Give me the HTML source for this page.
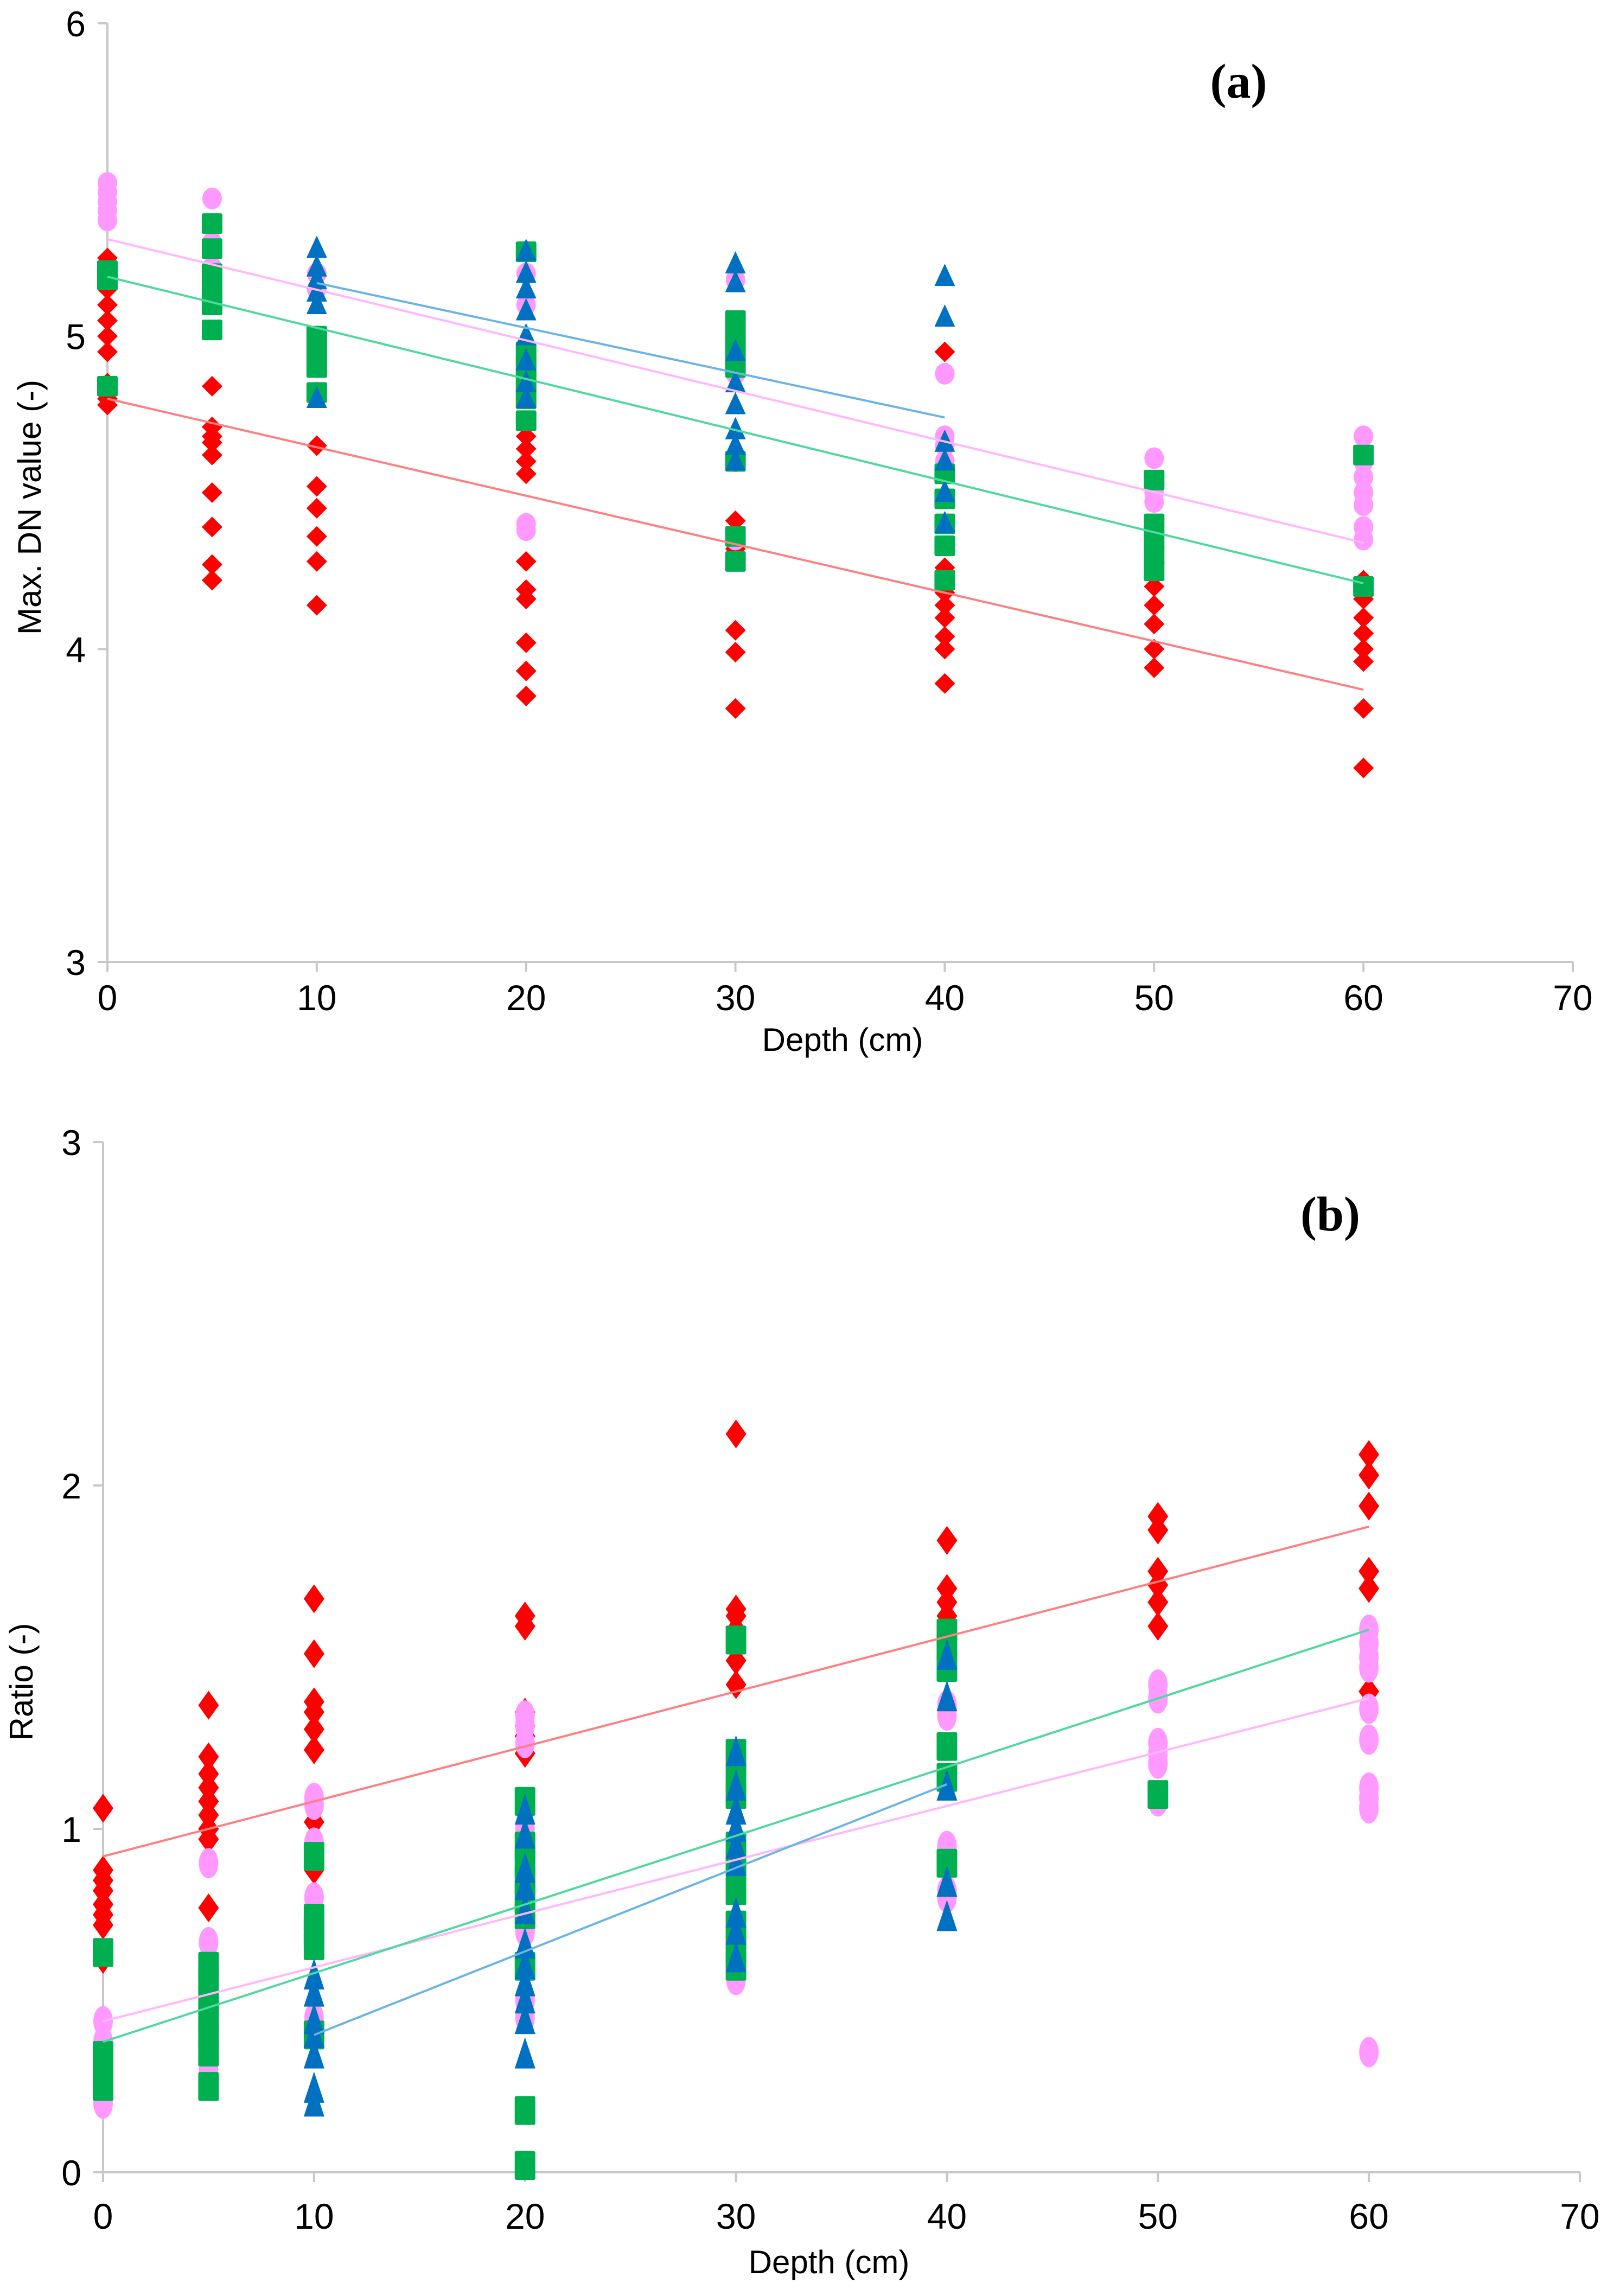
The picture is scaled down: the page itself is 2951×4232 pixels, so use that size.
<!DOCTYPE html>
<html><head><meta charset="utf-8"><style>
html,body{margin:0;padding:0;background:#fff;}
svg{display:block;}
text{font-family:"Liberation Sans",sans-serif;fill:#000;}
</style></head><body>
<svg id="fig" width="2951" height="4232" viewBox="0 0 2951 4232" xmlns="http://www.w3.org/2000/svg"></svg>
<script>
// ---------- Chart (a) data ----------
const xTicks = [0,10,20,30,40,50,60,70];
const yTicksA = [3,4,5,6];
const yTicksB = [0,1,2,3];
const depthsA = [0,5,10,20,30,40,50,60];
const redA = [[5.25,5.2,5.15,5.1,5.05,5.0,4.95,4.85,4.8,4.78],[4.84,4.71,4.68,4.66,4.62,4.5,4.39,4.27,4.22],[4.65,4.52,4.45,4.36,4.28,4.14],[4.68,4.64,4.6,4.56,4.28,4.19,4.16,4.02,3.93,3.85],[4.41,4.36,4.32,4.28,4.06,3.99,3.81],[4.95,4.26,4.22,4.18,4.14,4.1,4.04,4.0,3.89],[4.24,4.2,4.14,4.08,4.0,3.94],[4.22,4.16,4.1,4.05,4.0,3.96,3.81,3.62]];
const pinkA = [[5.49,5.46,5.43,5.4,5.37],[5.44,5.3,5.22],[5.2,5.15,5.0,4.82],[5.27,5.2,5.1,4.4,4.38],[5.18,4.88,4.6,4.35],[4.88,4.68,4.65,4.6],[4.61,4.5,4.47],[4.68,4.6,4.55,4.5,4.46,4.39,4.35]];
const greenA = [[5.21,5.18,4.84],[5.36,5.28,5.2,5.15,5.1,5.02],[5.0,4.95,4.9,4.82],[5.27,4.95,4.9,4.85,4.8,4.73],[5.05,5.0,4.95,4.9,4.6,4.36,4.28],[4.56,4.48,4.4,4.33,4.22],[4.54,4.4,4.35,4.3,4.25],[4.62,4.2]];
const blueDepths = [10,20,30,40];
const blueA = [[5.28,5.22,5.18,5.14,5.1,4.8],[5.27,5.2,5.15,5.08,5.0,4.92,4.85,4.8],[5.23,5.17,4.95,4.85,4.78,4.7,4.65,4.6],[5.19,5.06,4.66,4.6,4.5,4.4]];
// trend lines: [x0, y0, x1, y1]
const trendRedA = [0,4.8,60,3.87];
const trendPinkA = [0,5.31,60,4.34];
const trendGreenA = [0,5.19,60,4.21];
const trendBlueA = [10,5.17,40,4.74];
// ---------- Chart (b) data ----------
const redB = [[1.06,0.88,0.85,0.82,0.78,0.75,0.72,0.62],[1.36,1.21,1.16,1.12,1.08,1.04,1.0,0.97,0.77],[1.67,1.51,1.37,1.34,1.29,1.23,1.02,0.88],[1.62,1.59,1.34,1.3,1.27,1.22],[2.15,1.64,1.62,1.58,1.49,1.42],[1.84,1.7,1.66,1.62,1.58,1.54,1.49],[1.91,1.87,1.75,1.71,1.66,1.59],[2.09,2.03,1.94,1.75,1.7,1.4]];
const pinkB = [[0.44,0.38,0.3,0.22,0.2],[0.9,0.67,0.3],[1.09,1.07,0.96,0.8,0.77,0.45,0.42],[1.33,1.3,1.25,1.0,0.7,0.5,0.45],[1.2,0.95,0.6,0.56],[1.36,1.33,0.95,0.92,0.82,0.8],[1.42,1.38,1.25,1.22,1.19,1.08],[1.58,1.54,1.5,1.47,1.35,1.26,1.12,1.09,1.06,0.35]];
const greenB = [[0.64,0.34,0.3,0.25],[0.6,0.55,0.5,0.45,0.4,0.35,0.25],[0.92,0.74,0.7,0.66,0.4],[1.08,0.95,0.9,0.85,0.8,0.75,0.6,0.18,0.02],[1.55,1.22,1.15,1.1,0.95,0.9,0.82,0.72,0.65,0.6],[1.57,1.53,1.47,1.24,1.15,0.9],[1.1],[]];
const blueB = [[0.57,0.52,0.44,0.4,0.34,0.24,0.2],[1.05,0.98,0.88,0.83,0.76,0.66,0.6,0.55,0.5,0.44,0.34],[1.22,1.12,1.05,1.0,0.95,0.9,0.75,0.7,0.62],[1.5,1.38,1.12,0.84,0.74]];
const trendRedB = [0,0.92,60,1.88];
const trendPinkB = [0,0.44,60,1.38];
const trendGreenB = [0,0.38,60,1.58];
const trendBlueB = [10,0.4,40,1.13];

const NS = "http://www.w3.org/2000/svg";
const svg = document.getElementById('fig');
function el(tag, attrs, parent, text){
  const e = document.createElementNS(NS, tag);
  for (const k in attrs) e.setAttribute(k, attrs[k]);
  if (text !== undefined) e.textContent = text;
  (parent||svg).appendChild(e);
  return e;
}

function chart(cfg){
  const g = el('g', {});
  
  
  const X = v => cfg.x0 + (v - 0) / 70 * (cfg.x70 - cfg.x0);
  const Y = v => cfg.yb + (v - cfg.ymin) / (cfg.ymax - cfg.ymin) * (cfg.yt - cfg.yb);
  const ya = el('line', {x1:X(0), y1:Y(cfg.ymax), x2:X(0), y2:Y(cfg.ymin)+14, stroke:'#c8c8c8', 'stroke-width':4}, g);
  
  
  const xa = el('line', {x1:X(0)-18, y1:Y(cfg.ymin), x2:X(70), y2:Y(cfg.ymin), stroke:'#c8c8c8', 'stroke-width':4}, g);
  
  
  cfg.yticks.forEach(t => {
    el('line', {x1:X(0)-18, y1:Y(t), x2:X(0), y2:Y(t), stroke:'#c8c8c8', 'stroke-width':4}, g);
    const tl = el('text', {x:X(0)-40, y:Y(t)+24, 'font-size':66, 'text-anchor':'end'}, g, String(t));
    
    
  });
  cfg.xticks.forEach(t => {
    el('line', {x1:X(t), y1:Y(cfg.ymin), x2:X(t), y2:Y(cfg.ymin)+18, stroke:'#c8c8c8', 'stroke-width':4}, g);
    const tl = el('text', {x:X(t), y:cfg.xlabY, 'font-size':66, 'text-anchor':'middle'}, g, String(t));
    
    
  });
  const xt = el('text', {x:cfg.xtitleX, y:cfg.xtitleY, 'font-size':60, 'text-anchor':'middle'}, g, 'Depth (cm)');
  
  
  const yt = el('text', {x:0, y:0, 'font-size':60, 'text-anchor':'middle', transform:`translate(${cfg.ytitleX},${cfg.ytitleY}) rotate(-90)`}, g, cfg.ytitle);
  
  
  const pl = el('text', {x:cfg.panelX, y:cfg.panelY, 'font-size':90, 'font-weight':'bold', 'text-anchor':'middle', style:'font-family:"Liberation Serif",serif'}, g, cfg.panel);
  
  

  const sy = cfg.sy;
  function marker(kind, cx, cy, color){
    let m;
    if (kind === 'diamond') m = el('polygon', {points:`${cx},${cy-19*sy} ${cx+19},${cy} ${cx},${cy+19*sy} ${cx-19},${cy}`, fill:color}, g);
    else if (kind === 'circle') m = el('ellipse', {cx:cx, cy:cy, rx:18, ry:20*sy, fill:color}, g);
    else if (kind === 'square') m = el('rect', {x:cx-19, y:cy-19*sy, width:38, height:38*sy, rx:3, fill:color}, g);
    else m = el('polygon', {points:`${cx},${cy-24*sy} ${cx+19},${cy+17*sy} ${cx-19},${cy+17*sy}`, fill:color}, g);
    return m;
  }
  function series(name, kind, color, depths, vals){
    const sg = el('g', {}, g);
    
    
    depths.forEach((d, i) => {
      vals[i].forEach(v => {
        const m = marker(kind, X(d), Y(v), color);
        sg.appendChild(m);
        
        
      });
    });
  }
  function trend(name, t, color){
    const l = el('line', {x1:X(t[0]), y1:Y(t[1]), x2:X(t[2]), y2:Y(t[3]), stroke:color, 'stroke-width':4}, g);
    
    
  }
  series('red-diamond-series', 'diamond', '#ff0000', depthsA, cfg.red);
  series('pink-circle-series', 'circle', '#ff99ff', depthsA, cfg.pink);
  series('green-square-series', 'square', '#00b050', depthsA, cfg.green);
  series('blue-triangle-series', 'tri', '#0070c0', blueDepths, cfg.blue);
  trend('red-trendline', cfg.tr, '#ff8080');
  trend('pink-trendline', cfg.tp, '#ffb8ff');
  trend('green-trendline', cfg.tg, '#50d8a0');
  trend('blue-trendline', cfg.tb, '#6cb4e4');
}

chart({name:'chart-a-max-dn', x0:198, x70:2899, yb:1773, yt:43, ymin:3, ymax:6,
  yticks:yTicksA, xticks:xTicks, xlabY:1862, xtitleX:1553, xtitleY:1937,
  ytitle:'Max. DN value (-)', ytitleX:75, ytitleY:935, panel:'(a)', panelX:2283, panelY:180, sy:1,
  red:redA, pink:pinkA, green:greenA, blue:blueA,
  tr:trendRedA, tp:trendPinkA, tg:trendGreenA, tb:trendBlueA});
chart({name:'chart-b-ratio', x0:190, x70:2912, yb:4004, yt:2105, ymin:0, ymax:3,
  yticks:yTicksB, xticks:xTicks, xlabY:4108, xtitleX:1528, xtitleY:4190,
  ytitle:'Ratio (-)', ytitleX:60, ytitleY:3100, panel:'(b)', panelX:2452, panelY:2268, sy:1.4,
  red:redB, pink:pinkB, green:greenB, blue:blueB,
  tr:trendRedB, tp:trendPinkB, tg:trendGreenB, tb:trendBlueB});
</script>
</body></html>
